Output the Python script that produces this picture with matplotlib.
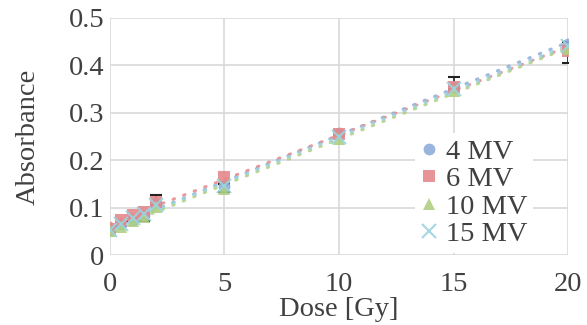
import numpy as np
import matplotlib
matplotlib.use('Agg')
import matplotlib.pyplot as plt

plt.rcParams['font.family'] = ['Liberation Serif', 'DejaVu Serif']

dose = [0, 0.5, 1, 1.5, 2, 5, 10, 15, 20]
abs_4mv = [0.053, 0.065, 0.075, 0.085, 0.110, 0.145, 0.257, 0.355, 0.445]
abs_6mv = [0.055, 0.075, 0.085, 0.090, 0.112, 0.165, 0.255, 0.355, 0.430]
abs_10mv = [0.050, 0.060, 0.072, 0.080, 0.102, 0.140, 0.245, 0.345, 0.435]
abs_15mv = [0.052, 0.065, 0.078, 0.086, 0.106, 0.146, 0.250, 0.350, 0.440]
# error bars (lower, upper) on the 4 MV series
err_lo = [0.002, 0.003, 0.004, 0.013, 0.005, 0.012, 0.004, 0.005, 0.040]
err_hi = [0.002, 0.003, 0.004, 0.005, 0.017, 0.005, 0.004, 0.020, 0.004]

series = [
    ('4 MV', abs_4mv, 'o', '#8EADDB', 8.5),
    ('6 MV', abs_6mv, 's', '#E4898C', 8.5),
    ('10 MV', abs_10mv, '^', '#AFCF82', 8.5),
    ('15 MV', abs_15mv, 'x', '#9BD3DE', 9.5),
]

fs = 20.5
fig = plt.figure(figsize=(5.87, 3.25), dpi=100)
ax = fig.add_axes([0.187, 0.215, 0.781, 0.73])

ax.errorbar(dose, abs_4mv, yerr=[err_lo, err_hi], fmt='none', ecolor='#222222',
            elinewidth=1.2, capsize=4, capthick=1.5, zorder=2)

xs = np.linspace(0, 20, 50)
for label, vals, mk, col, ms in series:
    k, b = np.polyfit(dose, vals, 1)
    ax.plot(xs, k * xs + b, linestyle=(0, (0.5, 3.2)), color=col, lw=2.2,
            dash_capstyle='round', alpha=0.85, zorder=1)
for label, vals, mk, col, ms in series:
    ax.plot(dose, vals, linestyle='none', marker=mk, color=col, markersize=ms,
            markeredgewidth=1.5 if mk == 'x' else 0, alpha=0.9, label=label, zorder=3)

ax.set_xlim(0, 20)
ax.set_ylim(0, 0.5)
ax.set_xticks([0, 5, 10, 15, 20])
ax.set_yticks([0, 0.1, 0.2, 0.3, 0.4, 0.5])
ax.set_yticklabels(['0', '0.1', '0.2', '0.3', '0.4', '0.5'])
ax.grid(True, color='#D9D9D9', lw=1.2)
ax.set_axisbelow(True)
for s in ax.spines.values():
    s.set_visible(False)
ax.tick_params(length=0, labelsize=fs, colors='#404040')
ax.tick_params(axis='y', pad=4)
ax.tick_params(axis='x', pad=12)
ax.set_xlabel('Dose [Gy]', fontsize=fs, color='#404040', labelpad=0)
ax.set_ylabel('Absorbance', fontsize=fs, color='#404040', labelpad=20)

leg = ax.legend(loc='lower right', bbox_to_anchor=(0.955, -0.05), fontsize=fs,
                frameon=True, framealpha=1, edgecolor='none', fancybox=False,
                handlelength=0.6, handletextpad=0.3, labelspacing=0.05,
                borderpad=0.2, labelcolor='#404040')

fig.savefig('out.png', dpi=100, facecolor='white')
